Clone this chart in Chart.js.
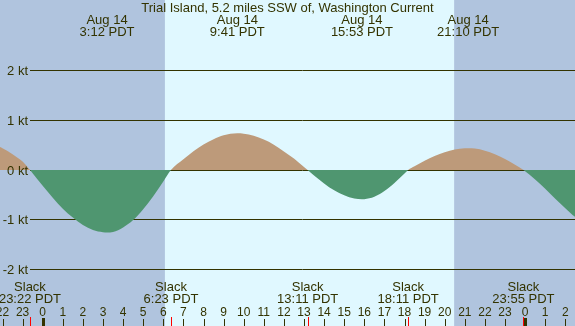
<!DOCTYPE html>
<html>
<head>
<meta charset="utf-8">
<script src="https://cdn.jsdelivr.net/npm/chart.js@4"></script>
<style>
  html, body { margin: 0; padding: 0; background: #b0c4de; }
  #wrap { width: 575px; height: 326px; position: relative; }
</style>
</head>
<body>
<div id="wrap"><canvas id="tideChart"></canvas></div>
<script>
// hours counted from Aug 14 00:00 PDT
const hours = [-3, -2.5, -2, -1.5, -1, -0.63, 0, 0.5, 1, 1.5, 2, 2.5, 3, 3.2, 3.5, 4, 4.5, 5, 5.5, 6, 6.38,
  7, 7.5, 8, 8.5, 9, 9.68, 10, 10.5, 11, 11.5, 12, 12.5, 13, 13.18, 13.5, 14, 14.5, 15, 15.5, 15.88, 16, 16.5,
  17, 17.5, 18, 18.18, 18.5, 19, 19.5, 20, 20.5, 21, 21.17, 21.5, 22, 22.5, 23, 23.5, 23.92, 24.5, 25, 25.5,
  26, 26.5, 27];
const knots = [0.60, 0.53, 0.44, 0.32, 0.17, 0, -0.32, -0.56, -0.78, -0.96, -1.11, -1.21, -1.255, -1.26, -1.25,
  -1.16, -1.01, -0.79, -0.53, -0.23, 0, 0.215, 0.38, 0.516, 0.62, 0.70, 0.74, 0.732, 0.69, 0.613, 0.51, 0.374,
  0.23, 0.06, 0, -0.11, -0.27, -0.41, -0.51, -0.576, -0.59, -0.588, -0.54, -0.425, -0.26, -0.072, 0, 0.074,
  0.184, 0.28, 0.36, 0.413, 0.438, 0.44, 0.432, 0.39, 0.319, 0.22, 0.105, 0, -0.19, -0.38, -0.58, -0.77,
  -0.95, -1.08];

const knotTicks = [2, 1, 0, -1, -2];
const knotLabels = ['2 kt', '1 kt', '0 kt', '-1 kt', '-2 kt'];

const hourTicks = [-2, -1, 0, 1, 2, 3, 4, 5, 6, 7, 8, 9, 10, 11, 12, 13, 14, 15, 16, 17, 18, 19, 20, 21, 22, 23, 24, 25, 26];
const hourLabels = ['22', '23', '0', '1', '2', '3', '4', '5', '6', '7', '8', '9', '10', '11', '12', '13', '14',
  '15', '16', '17', '18', '19', '20', '21', '22', '23', '0', '1', '2'];
const dayTicks = [0, 24];

const maxTimes = [3.2, 9.683, 15.883, 21.167];
const maxDates = ['Aug 14', 'Aug 14', 'Aug 14', 'Aug 14'];
const maxLabels = ['3:12 PDT', '9:41 PDT', '15:53 PDT', '21:10 PDT'];

const slackTimes = [-0.633, 6.383, 13.183, 18.183, 23.917];
const slackLabels = ['23:22 PDT', '6:23 PDT', '13:11 PDT', '18:11 PDT', '23:55 PDT'];

const sunrise = 6.08;
const sunset = 20.47;

const title = 'Trial Island, 5.2 miles SSW of, Washington Current';

const fg = '#333300';
const nightColor = '#b0c4de';
const dayColor = '#e0f8ff';
const floodColor = '#bd9a7a';
const ebbColor = '#4f9670';
const font = '"Liberation Sans", Arial, sans-serif';

const decor = {
  id: 'decor',
  beforeDraw(chart) {
    const { ctx, width, height } = chart;
    const x = chart.scales.x;
    ctx.save();
    ctx.fillStyle = nightColor;
    ctx.fillRect(0, 0, width, height);
    const x1 = x.getPixelForValue(sunrise), x2 = x.getPixelForValue(sunset);
    ctx.fillStyle = dayColor;
    ctx.fillRect(x1, 0, x2 - x1, height);
    ctx.restore();
  },
  beforeDatasetsDraw(chart) {
    const { ctx, width } = chart;
    const y = chart.scales.y;
    ctx.save();
    ctx.strokeStyle = fg;
    ctx.lineWidth = 1;
    knotTicks.forEach(v => {
      const py = Math.floor(y.getPixelForValue(v)) + 0.5;
      ctx.beginPath();
      ctx.moveTo(30, py);
      ctx.lineTo(width, py);
      ctx.stroke();
    });
    ctx.restore();
  },
  afterDatasetsDraw(chart) {
    const { ctx, width, height } = chart;
    const x = chart.scales.x, y = chart.scales.y;
    ctx.save();
    ctx.fillStyle = fg;
    ctx.font = '13px ' + font;

    // y labels
    ctx.textAlign = 'right';
    ctx.textBaseline = 'middle';
    knotTicks.forEach((v, i) => {
      ctx.fillText(knotLabels[i], 28, Math.floor(y.getPixelForValue(v)) + 1);
    });

    ctx.textAlign = 'center';
    ctx.textBaseline = 'alphabetic';
    ctx.fillText(title, width / 2, 12);

    maxTimes.forEach((t, i) => {
      const px = x.getPixelForValue(t);
      ctx.fillText(maxDates[i], px, 24);
      ctx.fillText(maxLabels[i], px, 36);
    });

    slackTimes.forEach((t, i) => {
      const px = x.getPixelForValue(t);
      ctx.fillText('Slack', px, 291);
      ctx.fillText(slackLabels[i], px, 303);
    });

    ctx.font = '12px ' + font;
    hourTicks.forEach((t, i) => {
      ctx.fillText(hourLabels[i], x.getPixelForValue(t), 316);
    });

    // tick marks
    ctx.strokeStyle = fg;
    ctx.lineWidth = 1;
    hourTicks.forEach(t => {
      const px = Math.round(x.getPixelForValue(t)) + 0.5;
      ctx.beginPath();
      ctx.moveTo(px, 319);
      ctx.lineTo(px, height);
      ctx.stroke();
    });
    ctx.strokeStyle = '#ff0000';
    slackTimes.forEach(t => {
      const px = Math.round(x.getPixelForValue(t)) + 0.5;
      ctx.beginPath();
      ctx.moveTo(px, 317);
      ctx.lineTo(px, height);
      ctx.stroke();
    });
    ctx.strokeStyle = fg;
    ctx.lineWidth = 3;
    dayTicks.forEach(t => {
      const px = Math.round(x.getPixelForValue(t)) + 0.5;
      ctx.beginPath();
      ctx.moveTo(px, 318);
      ctx.lineTo(px, height);
      ctx.stroke();
    });
    ctx.restore();
  }
};

new Chart(document.getElementById('tideChart'), {
  type: 'line',
  data: {
    datasets: [{
      data: hours.map((h, i) => ({ x: h, y: knots[i] })),
      borderWidth: 0,
      pointRadius: 0,
      cubicInterpolationMode: 'monotone',
      fill: { target: 'origin', above: floodColor, below: ebbColor }
    }]
  },
  options: {
    responsive: true,
    maintainAspectRatio: false,
    animation: false,
    layout: { padding: 0 },
    plugins: { legend: { display: false }, tooltip: { enabled: false } },
    scales: {
      x: { type: 'linear', display: false, min: -42.7 / 20.1, max: (575 - 42.7) / 20.1 },
      y: { type: 'linear', display: false, min: -156 / 49.6, max: 170 / 49.6 }
    }
  },
  plugins: [decor]
});
</script>
</body>
</html>
